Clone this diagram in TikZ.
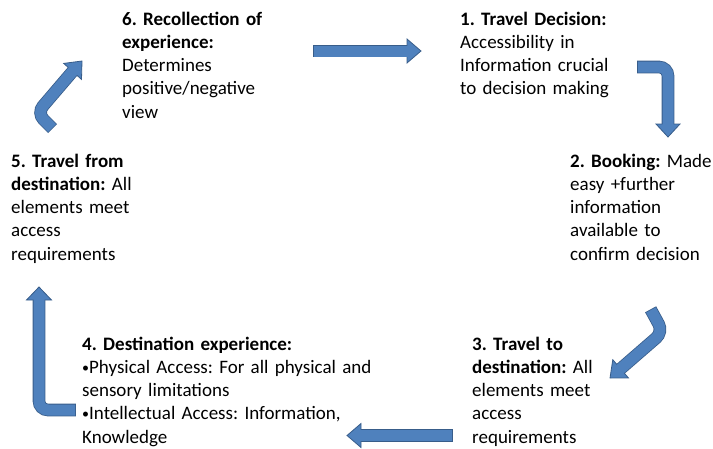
\documentclass[tikz,border=0pt]{standalone}
\usepackage{fontspec}
\setmainfont{Carlito}
\frenchspacing
\definecolor{afill}{HTML}{4F81BD}
\definecolor{aline}{HTML}{385D8A}
\newcommand{\smallbul}{\raisebox{1.2pt}{\fontsize{14}{14}\selectfont •}}
\tikzset{
  txt/.style={anchor=base west, inner sep=0pt, text width=320pt, align=left,
              font=\fontsize{19}{23.3}\selectfont},
  bodyout/.style={line width=12.6pt, draw=aline, rounded corners=9pt, shorten <=-0.8pt},
  bodyin/.style={line width=11pt, draw=afill, rounded corners=9pt, shorten >=-1.2pt},
  head/.style={fill=afill, draw=aline, line width=0.8pt, line join=miter},
}
\begin{document}
\begin{tikzpicture}[x=1pt,y=-1pt]
\useasboundingbox (0,0) rectangle (713,448);

% text nodes
\node[txt] (s6) at (122,25) {\textbf{6. Recollection of}\\\textbf{experience:}\\Determines\\positive/negative\\view};
\node[txt] (s1) at (460,25) {\textbf{1. Travel Decision:}\\Accessibility in\\Information crucial\\to decision making};
\node[txt] (s2) at (570,167) {\textbf{2. Booking:} Made\\easy +further\\information\\available to\\confirm decision};
\node[txt] (s3) at (472,350) {\textbf{3. Travel to}\\\textbf{destination:} All\\elements meet\\access\\requirements};
\node[txt] (s4) at (82,350) {\textbf{4. Destination experience:}\\\smallbul Physical Access: For all physical and\\sensory limitations\\\smallbul Intellectual Access: Information,\\Knowledge};
\node[txt] (s5) at (11,167) {\textbf{5. Travel from}\\\textbf{destination:} All\\elements meet\\access\\requirements};

% arrow A: 6 -> 1
\coordinate (aT) at (314,51);
\coordinate (aB) at (407,51);
\draw[bodyout] (aT) -- (aB);
\draw[head] (407,39) -- (421,51) -- (407,63) -- cycle;
\draw[bodyin] (aT) -- (aB);

% arrow B: 1 -> 2
\coordinate (bT) at (638,67);
\coordinate (bC) at (668,67);
\coordinate (bB) at (668,124);
\draw[bodyout] (bT) -- (bC) -- (bB);
\draw[head] (656,124) -- (668,137) -- (680,124) -- cycle;
\draw[bodyin] (bT) -- (bC) -- (bB);

% arrow C: 2 -> 3
\coordinate (cT) at (651,310);
\coordinate (cC) at (663,332);
\coordinate (cB) at (620.6,368.8);
\draw[bodyout] (cT) -- (cC) -- (cB);
\draw[head] (628.4,377.9) -- (610,378) -- (612.8,359.7) -- cycle;
\draw[bodyin] (cT) -- (cC) -- (cB);

% arrow D: 3 -> 4
\coordinate (dT) at (452,435.5);
\coordinate (dB) at (361,435.5);
\draw[bodyout] (dT) -- (dB);
\draw[head] (361,423.5) -- (347,435.5) -- (361,447.5) -- cycle;
\draw[bodyin] (dT) -- (dB);

% arrow E: 4 -> 5
\coordinate (eT) at (75,410);
\coordinate (eC) at (39,410);
\coordinate (eB) at (39,300);
\draw[bodyout] (eT) -- (eC) -- (eB);
\draw[head] (26.5,300) -- (39,287) -- (51.5,300) -- cycle;
\draw[bodyin] (eT) -- (eC) -- (eB);

% arrow F: 5 -> 6
\coordinate (fT) at (52,128);
\coordinate (fC) at (37,113);
\coordinate (fB) at (72.6,71.4);
\draw[bodyout] (fT) -- (fC) -- (fB);
\draw[head] (81.5,79.4) -- (82,61) -- (63.7,63.4) -- cycle;
\draw[bodyin] (fT) -- (fC) -- (fB);
\end{tikzpicture}
\end{document}
